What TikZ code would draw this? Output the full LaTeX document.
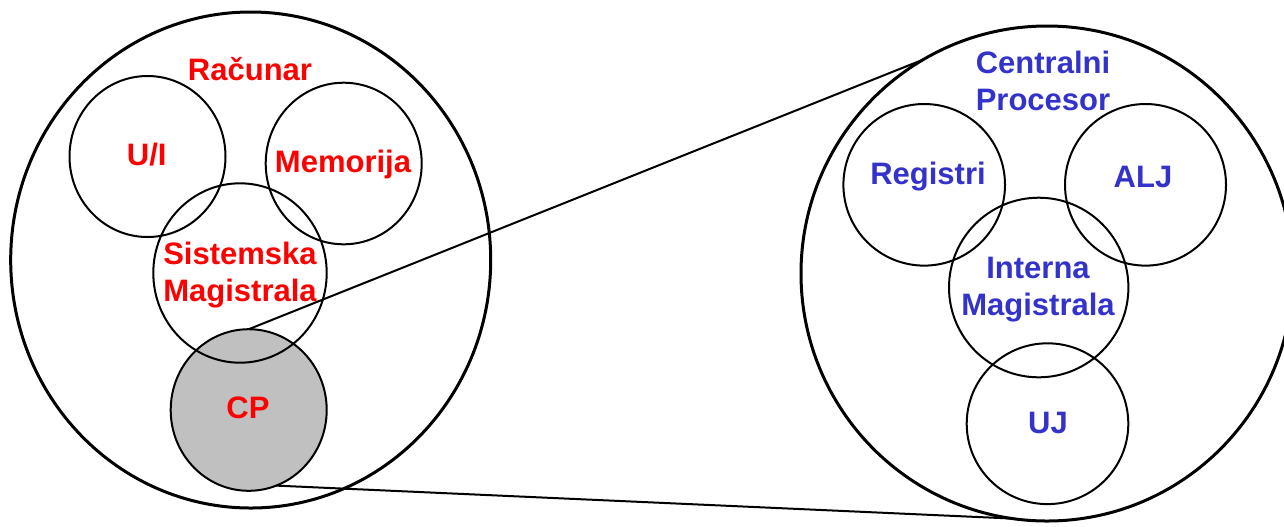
\documentclass[tikz,border=0pt]{standalone}
\usepackage{fontspec}
\setmainfont{Liberation Sans}
\usepackage{tikz}
\usetikzlibrary{positioning, shapes.geometric}

\begin{document}
\begin{tikzpicture}[
			x=0.5pt, y=-0.5pt,
			outer/.style={ellipse, draw, line width=1.5pt, inner sep=0pt, outer sep=0pt},
			part/.style={ellipse, draw, line width=1pt, inner sep=0pt, outer sep=0pt},
			lbl/.style={font=\bfseries\fontsize{15.5}{18.5}\selectfont, align=center, inner sep=0pt},
			red/.style={lbl, text=red},
			blue/.style={lbl, text=cpublue},
			]
			\definecolor{cpublue}{RGB}{51,51,204}
			\definecolor{cpgray}{RGB}{192,192,192}
			\clip (0,0) rectangle (1284,526);
			
			% Racunar
			\node[outer, minimum width=240pt, minimum height=248pt] (racunar) at (250.7,260) {};
			\node[part, fill=cpgray, minimum width=78pt, minimum height=80.8pt] (cp) at (248.7,410) {};
			\node[part, minimum width=78pt, minimum height=80.5pt] (ui) at (147.5,156.5) {};
			\node[part, minimum width=78pt, minimum height=80.8pt] (mem) at (343.7,163.5) {};
			\node[part, minimum width=86.7pt, minimum height=89.7pt] (sis) at (240,273) {};
			\node[red] (racunarlbl) at (250,69) {Računar};
			\node[red] (cplbl) at (248,408) {CP};
			\node[red] (uilbl) at (146.7,155) {U/I};
			\node[red] (memlbl) at (343,164) {Memorija};
			\node[red] (sislbl) at (240,275) {Sistemska\\Magistrala};
			
			% Centralni procesor
			\node[outer, minimum width=246pt, minimum height=247.5pt] (cpu) at (1047,273.5) {};
			\node[part, minimum width=80.8pt, minimum height=80.8pt] (reg) at (924.2,184.8) {};
			\node[part, minimum width=80.5pt, minimum height=80.8pt] (alj) at (1145.5,184.8) {};
			\node[part, minimum width=89.7pt, minimum height=89.8pt] (im) at (1038.7,287.5) {};
			\node[part, minimum width=80.8pt, minimum height=80.4pt] (uj) at (1047.5,423.7) {};
			\node[blue] (cpulbl) at (1043,81) {Centralni\\Procesor};
			\node[blue] (reglbl) at (928,177) {Registri};
			\node[blue] (aljlbl) at (1143,177) {ALJ};
			\node[blue] (imlbl) at (1038,290) {Interna\\Magistrala};
			\node[blue] (ujlbl) at (1048,423) {UJ};
			
			% Veze
			\draw[line width=1pt] (cp.north) -- (cpu.120);
			\draw[line width=1pt] (cp.-70) -- (cpu.-98);
			
		\end{tikzpicture}
\end{document}
